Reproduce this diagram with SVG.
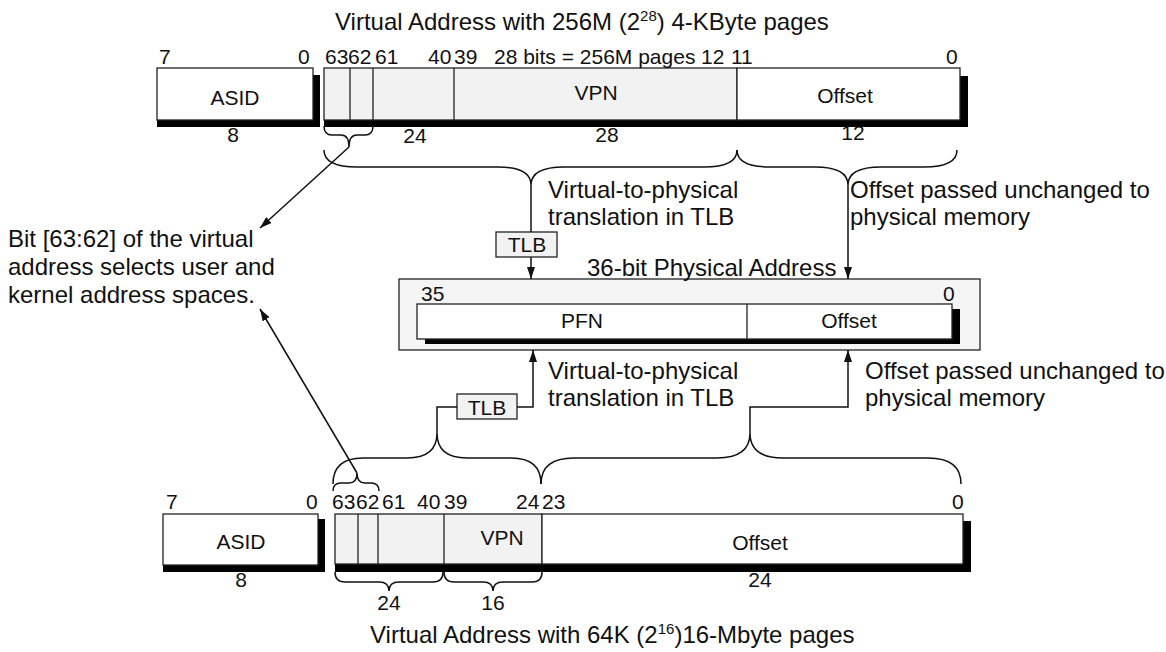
<svg xmlns="http://www.w3.org/2000/svg" width="1166" height="652" viewBox="0 0 1166 652">
<style>
text { font-family: "Liberation Sans", Arial, Helvetica, sans-serif; fill: #111; }
.t24 { font-size: 24px; }
.t21 { font-size: 21px; }
.sup { font-size: 15px; }
.mid { text-anchor: middle; }
.box { stroke: #222; stroke-width: 1.3; }
.grey { fill: #f2f2f2; }
.white { fill: #ffffff; }
.shadow { fill: #000; }
.div { stroke: #222; stroke-width: 1.3; fill: none; }
.brace { fill: none; stroke: #111; stroke-width: 1.5; }
.line { fill: none; stroke: #111; stroke-width: 1.5; }
.arrow { fill: none; stroke: #111; stroke-width: 1.5; marker-end: url(#ah); }
</style>
<defs>
<marker id="ah" viewBox="0 0 12 8" refX="12" refY="4" markerWidth="12" markerHeight="8" markerUnits="userSpaceOnUse" orient="auto">
<path d="M0,0 L12,4 L0,8 z" fill="#111"/>
</marker>
</defs>
<rect width="1166" height="652" fill="#ffffff"/>

<!-- Titles -->
<text id="title-top" class="t24" x="335" y="30">Virtual Address with 256M (2<tspan class="sup" dy="-9">28</tspan><tspan dy="9">) 4-KByte pages</tspan></text>
<text id="title-bottom" class="t24" x="370" y="643">Virtual Address with 64K (2<tspan class="sup" dy="-9">16</tspan><tspan dy="9">)16-Mbyte pages</tspan></text>

<!-- Top ASID -->
<g id="asid-top">
<rect class="shadow" x="157" y="75" width="163" height="52"/>
<rect class="box white" x="157" y="68" width="156" height="52"/>
<text class="t21 mid" x="235" y="105">ASID</text>
<text class="t21" x="159" y="64">7</text>
<text class="t21" x="298" y="64">0</text>
<text class="t21 mid" x="233" y="142">8</text>
</g>

<!-- Top virtual address -->
<g id="va-top">
<rect class="shadow" x="324" y="76" width="644" height="51"/>
<rect class="box grey" x="324" y="68" width="413" height="52"/>
<rect class="box white" x="737" y="68" width="223" height="52"/>
<path class="div" d="M350,68 V120 M373,68 V120 M454,68 V120"/>
<text class="t21 mid" x="596" y="100">VPN</text>
<text class="t21 mid" x="845" y="103">Offset</text>
<text class="t21" x="325" y="64">63</text>
<text class="t21" x="348" y="64">62</text>
<text class="t21" x="375" y="64">61</text>
<text class="t21" x="428" y="64">40</text>
<text class="t21" x="454" y="64">39</text>
<text class="t21" x="494" y="64">28 bits = 256M pages</text>
<text class="t21" x="701" y="64">12</text>
<text class="t21" x="731" y="64">11</text>
<text class="t21" x="946" y="64">0</text>
<text class="t21 mid" x="415" y="143">24</text>
<text class="t21 mid" x="607" y="142">28</text>
<text class="t21 mid" x="853" y="140">12</text>
</g>

<!-- TLB top -->
<g id="tlb-top">
<rect class="box grey" x="496" y="232" width="61" height="25"/>
<text class="t21 mid" x="527" y="252">TLB</text>
</g>

<!-- Physical address -->
<g id="physical">
<rect class="box" x="399" y="279" width="581" height="71" fill="#f5f5f5"/>
<rect class="shadow" x="425" y="309" width="535" height="35"/>
<rect class="box white" x="417" y="304" width="535" height="35"/>
<path class="div" d="M747,304 V339"/>
<text class="t21 mid" x="582" y="328">PFN</text>
<text class="t21 mid" x="849" y="328">Offset</text>
<text class="t21" x="421" y="301">35</text>
<text class="t21" x="943" y="301">0</text>
<text class="t24" x="587" y="276">36-bit Physical Address</text>
</g>

<!-- TLB bottom -->
<g id="tlb-bottom">
<rect class="box grey" x="457" y="394" width="60" height="25"/>
<text class="t21 mid" x="487" y="415">TLB</text>
</g>

<!-- Bottom ASID -->
<g id="asid-bottom">
<rect class="shadow" x="163" y="519" width="162" height="53"/>
<rect class="box white" x="163" y="514" width="155" height="51"/>
<text class="t21 mid" x="241" y="549">ASID</text>
<text class="t21" x="166" y="509">7</text>
<text class="t21" x="306" y="509">0</text>
<text class="t21 mid" x="241" y="587">8</text>
</g>

<!-- Bottom virtual address -->
<g id="va-bottom">
<rect class="shadow" x="335" y="521" width="636" height="51"/>
<rect class="box grey" x="335" y="514" width="207" height="50"/>
<rect class="box white" x="542" y="514" width="421" height="50"/>
<path class="div" d="M358,514 V564 M378,514 V564 M444,514 V564"/>
<text class="t21 mid" x="502" y="545">VPN</text>
<text class="t21 mid" x="760" y="550">Offset</text>
<text class="t21" x="332" y="509">63</text>
<text class="t21" x="356" y="509">62</text>
<text class="t21" x="382" y="509">61</text>
<text class="t21" x="417" y="509">40</text>
<text class="t21" x="444" y="509">39</text>
<text class="t21" x="516" y="509">24</text>
<text class="t21" x="542" y="509">23</text>
<text class="t21" x="952" y="509">0</text>
<text class="t21 mid" x="389" y="610">24</text>
<text class="t21 mid" x="493" y="610">16</text>
<text class="t21 mid" x="760" y="587">24</text>
</g>

<!-- Annotations -->
<g id="note-bits">
<text class="t24" x="8" y="247">Bit [63:62] of the virtual</text>
<text class="t24" x="8" y="275">address selects user and</text>
<text class="t24" x="8" y="303">kernel address spaces.</text>
</g>
<g id="note-translate-top">
<text class="t24" x="548" y="198">Virtual-to-physical</text>
<text class="t24" x="548" y="225">translation in TLB</text>
</g>
<g id="note-offset-top">
<text class="t24" x="850" y="198">Offset passed unchanged to</text>
<text class="t24" x="850" y="225">physical memory</text>
</g>
<g id="note-translate-bottom">
<text class="t24" x="548" y="379">Virtual-to-physical</text>
<text class="t24" x="548" y="406">translation in TLB</text>
</g>
<g id="note-offset-bottom">
<text class="t24" x="865" y="379">Offset passed unchanged to</text>
<text class="t24" x="865" y="406">physical memory</text>
</g>

<!-- Connectors -->
<g id="connectors">
<!-- top braces -->
<path class="brace" d="M324,126 Q324,135 332,135 H341 Q349,135 349,147 Q349,135 357,135 H365 Q373,135 373,126"/>
<path class="brace" d="M324,150 Q324,167 357,167 H498 Q531,167 531,185 Q531,167 564,167 H704 Q737,167 737,150"/>
<path class="brace" d="M737,150 Q737,167 770,167 H815 Q848,167 848,185 Q848,167 881,167 H924 Q957,167 957,150"/>
<!-- bottom braces above bar -->
<path class="brace" d="M333,491 Q333,483 341,483 H349 Q357,483 357,473 Q357,483 365,483 H371 Q379,483 379,491"/>
<path class="brace" d="M333,484 Q333,458 363,458 H407 Q437,458 437,433 Q437,458 467,458 H511 Q541,458 541,484"/>
<path class="brace" d="M541,484 Q541,458 574,458 H717 Q750,458 750,433 Q750,458 783,458 H928 Q961,458 961,484"/>
<!-- braces below bottom bar -->
<path class="brace" d="M335,572 Q335,582 345,582 H379 Q389,582 389,591 Q389,582 399,582 H433 Q443,582 443,572"/>
<path class="brace" d="M444,572 Q444,582 454,582 H483 Q493,582 493,591 Q493,582 503,582 H532 Q542,582 542,572"/>
<!-- bit 63:62 pointers -->
<path class="arrow" d="M349,147 L260,228"/>
<path class="arrow" d="M357,473 L260,309"/>
<!-- top translation -->
<path class="line" d="M531,185 V232"/>
<path class="arrow" d="M531,257 V279"/>
<path class="arrow" d="M848,185 V279"/>
<!-- bottom translation -->
<path class="line" d="M437,433 V407 H457"/>
<path class="arrow" d="M517,407 H533 V350"/>
<path class="arrow" d="M750,433 V407 H848 V350"/>
</g>
</svg>
